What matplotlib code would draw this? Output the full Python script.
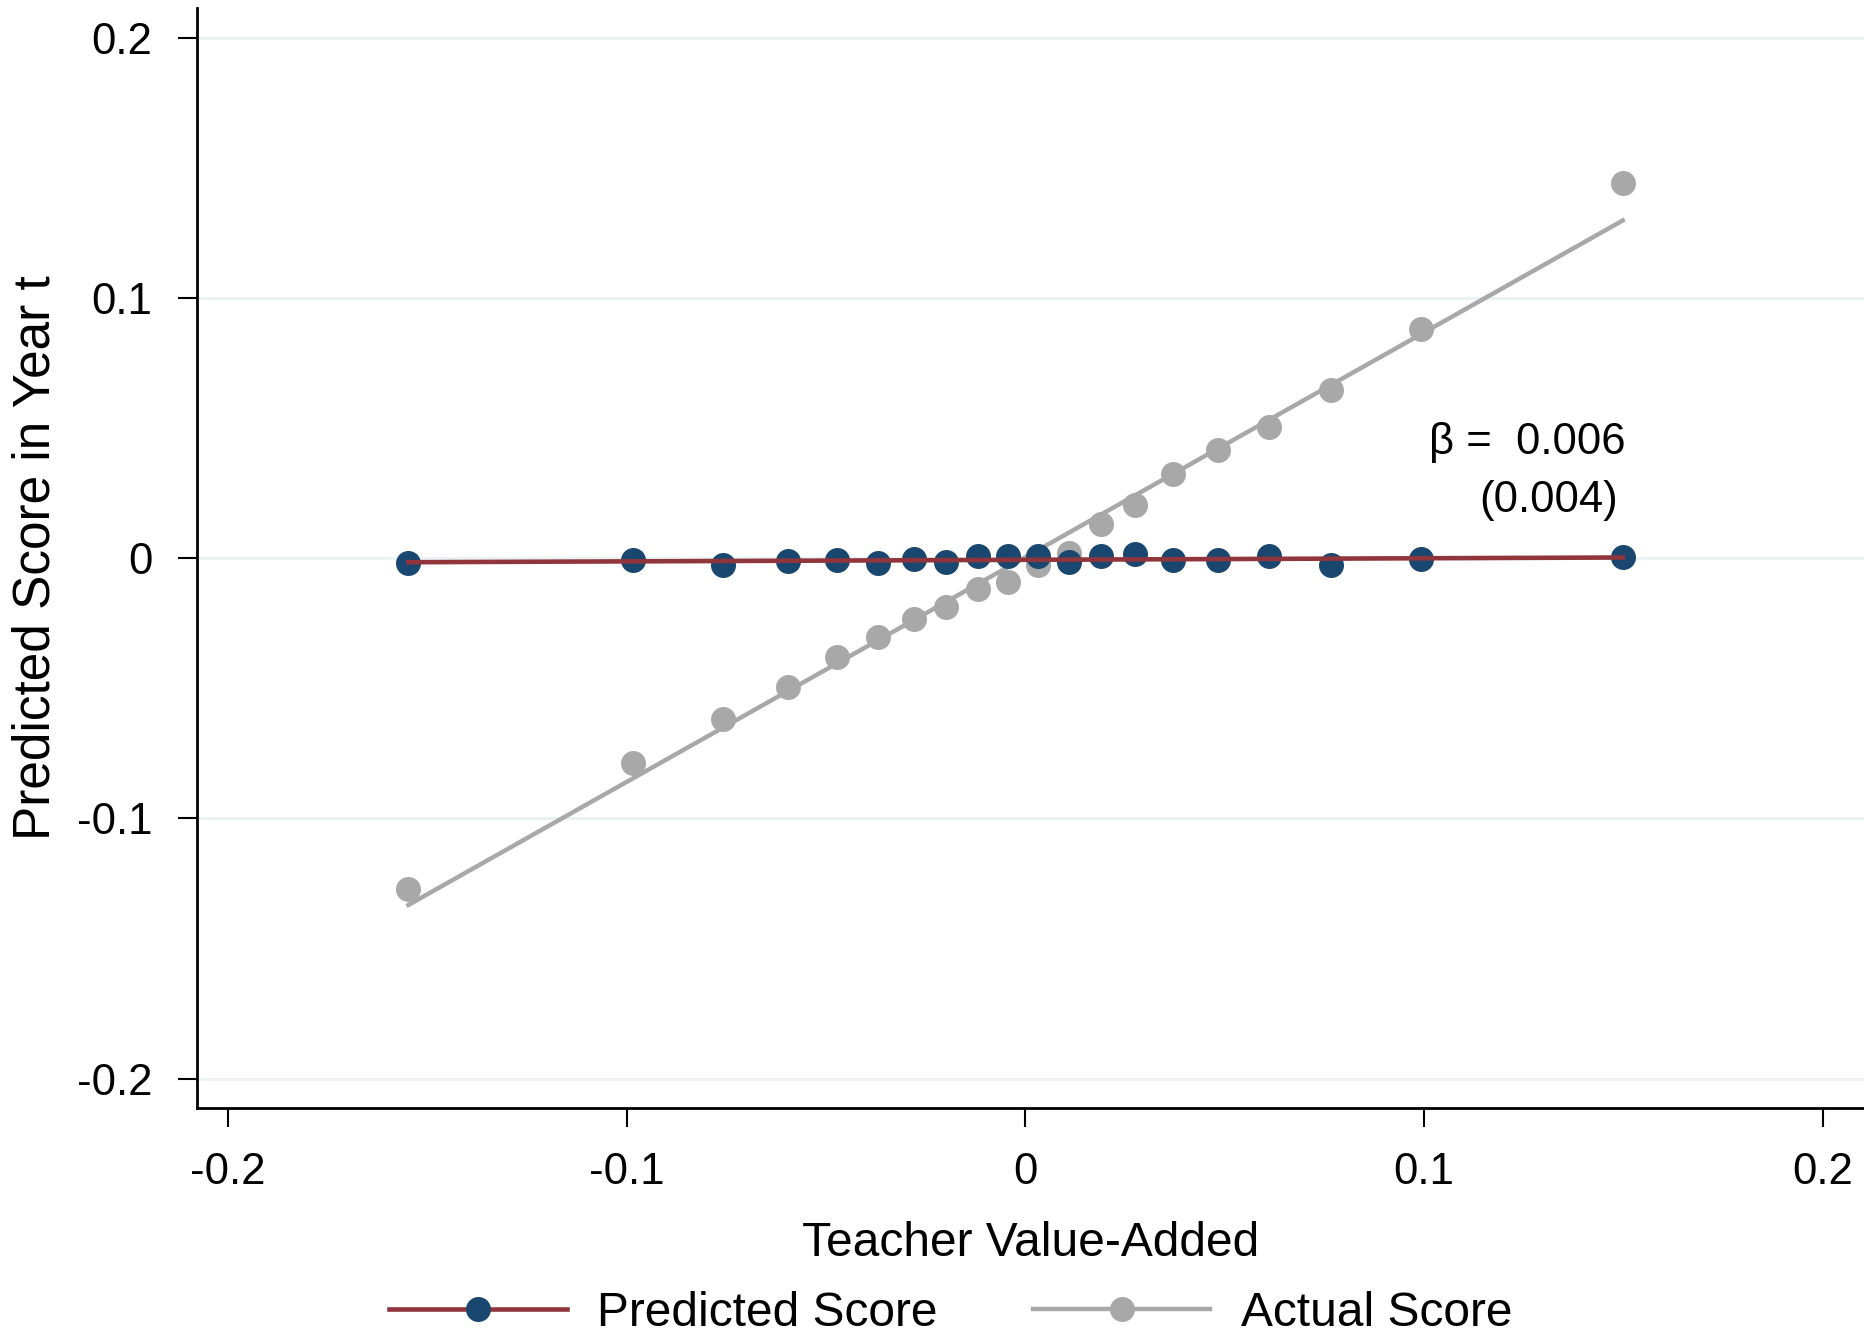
import matplotlib
matplotlib.use("Agg")
import matplotlib.pyplot as plt
from matplotlib.lines import Line2D
import numpy as np

plt.rcParams['font.family'] = ['Liberation Sans', 'DejaVu Sans']

# binned teacher value-added (x) with mean scores per bin
va_bins = [-0.1547, -0.0983, -0.0758, -0.0594, -0.0473, -0.0369, -0.0278, -0.0198,
           -0.0118, -0.0044, 0.0032, 0.0109, 0.0190, 0.0275, 0.0371, 0.0483,
           0.0610, 0.0766, 0.0993, 0.1498]
predicted = [-0.0019, -0.0006, -0.0025, -0.0010, -0.0006, -0.0019, -0.0001, -0.0013,
             0.0010, 0.0010, 0.0007, -0.0016, 0.0010, 0.0017, -0.0008, -0.0005,
             0.0010, -0.0025, -0.0003, 0.0005]
actual = [-0.1272, -0.0787, -0.0618, -0.0494, -0.0379, -0.0303, -0.0234, -0.0187,
          -0.0118, -0.0091, -0.0024, 0.0022, 0.0133, 0.0206, 0.0324, 0.0418,
          0.0503, 0.0648, 0.0881, 0.1444]

# linear fits (intercept, slope)
pred_fit = (-0.0006, 0.006)
act_fit = (0.0004, 0.864)

beta_txt = "\u03b2 =  0.006"
se_txt = "(0.004)"

ticks = [-0.2, -0.1, 0, 0.1, 0.2]
tick_labels = ["-0.2", "-0.1", "0", "0.1", "0.2"]

NAVY = "#1a476f"
MAROON = "#90353b"
GRAY = "#a8a8a8"
GRID = "#eaf2f3"

fig = plt.figure(figsize=(18.64, 13.33), dpi=100)
ax = fig.add_axes([197/1864, 1-1108/1333, (1864-197)/1864, (1108-8)/1333])

x = np.array(va_bins)
xfit = np.array([x.min(), x.max()])

ax.plot(x, actual, 'o', color=GRAY, ms=18, mew=0, zorder=3)
ax.plot(xfit, act_fit[0] + act_fit[1]*xfit, color=GRAY, lw=3.2, zorder=3)
ax.plot(x, predicted, 'o', color=NAVY, ms=18, mew=0, zorder=4)
ax.plot(xfit, pred_fit[0] + pred_fit[1]*xfit, color=MAROON, lw=3.3, zorder=5)

ax.text(0.1506, 0.0445, beta_txt, ha='right', va='center', fontsize=31.5)
ax.text(0.1486, 0.0222, se_txt, ha='right', va='center', fontsize=31.5)

ax.set_xlim(-0.2077, 0.2103)
ax.set_ylim(-0.2113, 0.2115)
ax.set_xticks(ticks)
ax.set_xticklabels(tick_labels)
ax.set_yticks(ticks)
ax.set_yticklabels(tick_labels)
ax.tick_params(axis='both', labelsize=31.5, width=1.5, length=14, direction='out')
ax.tick_params(axis='y', pad=18)
ax.tick_params(axis='x', pad=18)

for y in ticks:
    ax.axhline(y, color=GRID, lw=2.2, zorder=0)

for s in ['top', 'right']:
    ax.spines[s].set_visible(False)
for s in ['left', 'bottom']:
    ax.spines[s].set_linewidth(2)

ax.set_xlabel("Teacher Value-Added", fontsize=34.5)
ax.xaxis.label.set_va('center')
ax.xaxis.set_label_coords(0.5, (1108-1243)/1100)
ax.set_ylabel("Predicted Score in Year t", fontsize=37)
ax.yaxis.label.set_va('center')
ax.yaxis.set_label_coords((36-197)/1667, 0.5)

handles = [
    Line2D([], [], color=MAROON, lw=3.3, marker='o', ms=18, mfc=NAVY, mew=0),
    Line2D([], [], color=GRAY, lw=3.2, marker='o', ms=18, mfc=GRAY, mew=0),
]
fig.legend(handles, ["Predicted Score", "Actual Score"], loc='center',
           bbox_to_anchor=(0.510, 1-1313/1333), ncol=2, frameon=False,
           fontsize=34.5, handlelength=3.7, handletextpad=0.63, columnspacing=2.0)

fig.savefig("out.png", dpi=100)
